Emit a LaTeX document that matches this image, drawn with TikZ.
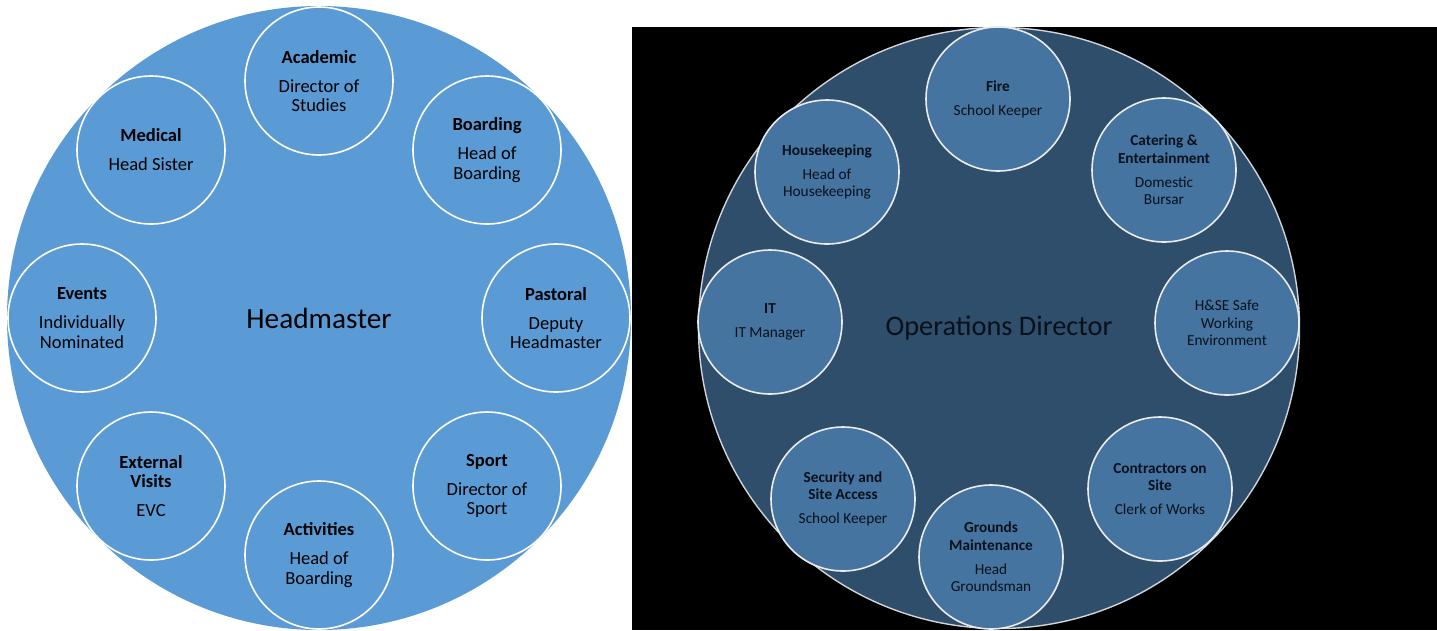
\documentclass[tikz,border=0pt]{standalone}
\usepackage{fontspec}
\setmainfont{Carlito}
\definecolor{lblue}{HTML}{5B9BD5}
\definecolor{dbig}{HTML}{2F4E6B}
\definecolor{dsmall}{HTML}{4674A1}
\definecolor{dtext}{HTML}{08111A}
\definecolor{ringgray}{HTML}{D0D4D8}
\tikzset{
  leftbig/.style={circle,fill=lblue,minimum size=624pt,inner sep=0pt,
    font=\fontsize{29.3}{32}\selectfont,text=black},
  leftsmall/.style={circle,fill=lblue,draw=white,line width=1.6pt,
    minimum size=148pt,inner sep=0pt,align=center,text=black,
    font=\fontsize{18.5}{19.5}\selectfont},
  rightbig/.style={circle,fill=dbig,draw=ringgray,line width=1.4pt,
    minimum size=601pt,inner sep=0pt,
    font=\fontsize{28.3}{31}\selectfont,text=dtext},
  rightsmall/.style={circle,fill=dsmall,draw=white!92!black,line width=1.6pt,
    minimum size=144pt,inner sep=0pt,align=center,text=dtext,
    font=\fontsize{15.3}{17.6}\selectfont},
  blackpanel/.style={fill=black,draw=none}
}
\begin{document}
\begin{tikzpicture}[x=1pt,y=-1pt]
\useasboundingbox (0,0) rectangle (1437,630);
% left diagram
\node[leftbig] (head) at (319,318) {Headmaster};
\node[leftsmall] (acad) at (319,81) {\textbf{Academic}\\[9.5pt]Director of\\Studies};
\node[leftsmall] (board) at (487,150) {\textbf{Boarding}\\[9.5pt]Head of\\Boarding};
\node[leftsmall] (past) at (556,318) {\textbf{Pastoral}\\[9.5pt]Deputy\\Headmaster};
\node[leftsmall] (sport) at (487,486) {\textbf{Sport}\\[9.5pt]Director of\\Sport};
\node[leftsmall] (activ) at (319,555) {\textbf{Activities}\\[9.5pt]Head of\\Boarding};
\node[leftsmall] (ext) at (151,486) {\textbf{External}\\\textbf{Visits}\\[9.5pt]EVC};
\node[leftsmall] (events) at (82,318) {\textbf{Events}\\[9.5pt]Individually\\Nominated};
\node[leftsmall] (med) at (151,150) {\textbf{Medical}\\[9.5pt]Head Sister};
% right diagram
\path[blackpanel] (632,27) rectangle (1437,630);
\node[rightbig] (ops) at (999,328) {Operations Director};
\node[rightsmall] (fire) at (998,99) {\textbf{Fire}\\[6.5pt]School Keeper};
\node[rightsmall] (cater) at (1164,170) {\textbf{Catering \&}\\\textbf{Entertainment}\\[6.5pt]Domestic\\Bursar};
\node[rightsmall] (hse) at (1227,323) {H\&SE Safe\\Working\\Environment};
\node[rightsmall] (contr) at (1160,489) {\textbf{Contractors on}\\\textbf{Site}\\[6.5pt]Clerk of Works};
\node[rightsmall] (ground) at (991,557) {\textbf{Grounds}\\\textbf{Maintenance}\\[6.5pt]Head\\Groundsman};
\node[rightsmall] (secur) at (843,499) {\textbf{Security and}\\\textbf{Site Access}\\[6.5pt]School Keeper};
\node[rightsmall] (it) at (770,322) {\textbf{IT}\\[6.5pt]IT Manager};
\node[rightsmall] (house) at (827,172) {\textbf{Housekeeping}\\[6.5pt]Head of\\Housekeeping};
\end{tikzpicture}
\end{document}
